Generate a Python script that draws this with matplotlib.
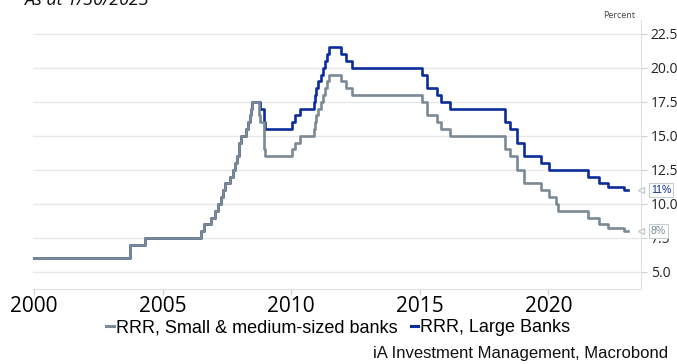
import matplotlib
matplotlib.use("Agg")
import matplotlib.pyplot as plt
import pandas as pd

# change dates of the reserve requirement ratio (RRR), %
dates = ["2000-01-01", "2003-09-21", "2004-04-25", "2006-07-05", "2006-08-15",
         "2006-11-15", "2007-01-15", "2007-02-25", "2007-04-16", "2007-05-15",
         "2007-06-05", "2007-08-15", "2007-09-25", "2007-10-25", "2007-11-26",
         "2007-12-25", "2008-01-25", "2008-03-25", "2008-04-25", "2008-05-20",
         "2008-06-15", "2008-06-25", "2008-09-25", "2008-10-15", "2008-12-05",
         "2008-12-25", "2010-01-18", "2010-02-25", "2010-05-10", "2010-11-16",
         "2010-11-29", "2010-12-20", "2011-01-20", "2011-02-24", "2011-03-25",
         "2011-04-21", "2011-05-18", "2011-06-20", "2011-12-05", "2012-02-24",
         "2012-05-18", "2015-02-05", "2015-04-20", "2015-09-06", "2015-10-24",
         "2016-03-01", "2018-04-25", "2018-07-05", "2018-10-15", "2019-01-15",
         "2019-01-25", "2019-09-16", "2020-01-06", "2020-04-15", "2020-05-15",
         "2021-07-15", "2021-12-15", "2022-04-25", "2022-12-05"]
end_date = "2023-01-30"

small_banks = [6.0, 7.0, 7.5, 8.0, 8.5,
               9.0, 9.5, 10.0, 10.5, 11.0,
               11.5, 12.0, 12.5, 13.0, 13.5,
               14.5, 15.0, 15.5, 16.0, 16.5,
               17.0, 17.5, 16.5, 16.0, 14.0,
               13.5, 14.0, 14.5, 15.0, 15.5,
               16.0, 16.5, 17.0, 17.5, 18.0,
               18.5, 19.0, 19.5, 19.0, 18.5,
               18.0, 17.5, 16.5, 16.0, 15.5,
               15.0, 14.0, 13.5, 12.5, 12.0,
               11.5, 11.0, 10.5, 10.0, 9.5,
               9.0, 8.5, 8.25, 8.0]

large_banks = [6.0, 7.0, 7.5, 8.0, 8.5,
               9.0, 9.5, 10.0, 10.5, 11.0,
               11.5, 12.0, 12.5, 13.0, 13.5,
               14.5, 15.0, 15.5, 16.0, 16.5,
               17.0, 17.5, 17.5, 17.0, 16.0,
               15.5, 16.0, 16.5, 17.0, 17.5,
               18.0, 18.5, 19.0, 19.5, 20.0,
               20.5, 21.0, 21.5, 21.0, 20.5,
               20.0, 19.5, 18.5, 18.0, 17.5,
               17.0, 16.0, 15.5, 14.5, 14.0,
               13.5, 13.0, 12.5, 12.5, 12.5,
               12.0, 11.5, 11.25, 11.0]

y_ticks = [5.0, 7.5, 10.0, 12.5, 15.0, 17.5, 20.0, 22.5]
x_years = [2000, 2005, 2010, 2015, 2020]

blue = "#0b2d9a"
grey = "#7b8a95"

x = pd.to_datetime(dates + [end_date])
small = small_banks + [small_banks[-1]]
large = large_banks + [large_banks[-1]]

fig = plt.figure(figsize=(6.77, 3.64), dpi=100)
ax = fig.add_axes([0.049, 0.206, 0.898, 0.739])

ax.step(x, large, where="post", color=blue, lw=1.9, label="RRR, Large Banks", zorder=3)
ax.step(x, small, where="post", color=grey, lw=1.9, label="RRR, Small & medium-sized banks", zorder=4)

ax.set_xlim(pd.Timestamp("1999-12-20"), pd.Timestamp("2023-08-10"))
ax.set_ylim(3.75, 23.5)

ax.yaxis.tick_right()
ax.set_yticks(y_ticks)
ax.set_yticklabels([f"{v:.1f}" for v in y_ticks], fontsize=10, family="Open Sans", color="#222222")
ax.set_xticks([pd.Timestamp(f"{y}-01-01") for y in x_years])
ax.set_xticklabels([str(y) for y in x_years], fontsize=15, family="Open Sans")
ax.tick_params(axis="y", length=4, color="#d0d0d0", pad=3)
ax.tick_params(axis="x", length=4, color="#d0d0d0", pad=1)

ax.grid(axis="y", color="#e8e8e8", lw=1)
for s in ["left", "top"]:
    ax.spines[s].set_visible(False)
for s in ["right", "bottom"]:
    ax.spines[s].set_color("#e0e0e0")

ax.text(0.99, 1.0, "Percent", transform=ax.transAxes, ha="right", va="bottom",
        fontsize=6.5, family="Open Sans", color="#444444")

# end-of-line value labels
for val, col, txt in [(large[-1], blue, "11%"), (small[-1], grey, "8%")]:
    ax.annotate(txt, xy=(1.0, val), xycoords=("axes fraction", "data"),
                xytext=(7, 0), textcoords="offset points", ha="left", va="center",
                fontsize=7.5, family="Liberation Sans", color=col,
                bbox=dict(boxstyle="square,pad=0.2", fc="white", ec="#c8ccd0", lw=0.8))
    ax.plot([1.0], [val], marker="<", ms=4, mfc="white", mec="#c8ccd0",
            transform=ax.get_yaxis_transform(), clip_on=False, zorder=5)

handles, labels = ax.get_legend_handles_labels()
leg = fig.legend(handles[::-1], labels[::-1], loc="center", bbox_to_anchor=(0.5, 0.1),
                 ncol=2, frameon=False, handlelength=0.4, handletextpad=0.15,
                 columnspacing=0.7, prop={"family": "Liberation Sans", "size": 13})
for line in leg.get_lines():
    line.set_linewidth(2.2)

fig.text(0.987, 0.03, "iA Investment Management, Macrobond", ha="right", va="center",
         fontsize=12, family="Liberation Sans", color="#111111")
fig.text(0.035, 0.985, "As at 1/30/2023", ha="left", va="baseline", fontsize=13,
         style="italic", family="Open Sans", color="#111111")

fig.savefig("out.png", dpi=100)
